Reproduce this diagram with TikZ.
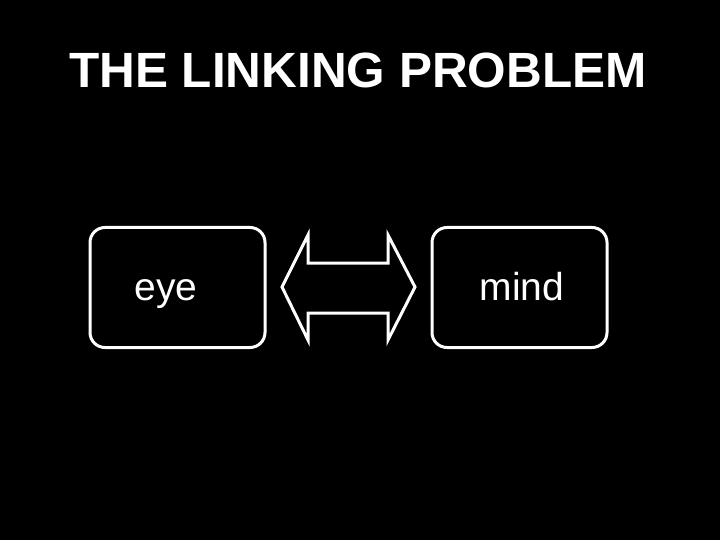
\documentclass[tikz,border=0pt]{standalone}
\usepackage{fontspec}
\setmainfont{Liberation Sans}
\usetikzlibrary{positioning}

\begin{document}
\begin{tikzpicture}[
        x=1pt, y=-1pt,
        termbox/.style={draw=white, line width=3pt, rounded corners=15pt, minimum width=175pt, minimum height=120pt, inner sep=0pt},
        termtext/.style={text=white, font=\fontsize{39}{44}\selectfont, anchor=base},
        linkarrow/.style={draw=white, line width=3pt, line join=miter}
      ]
        \fill[black] (0,0) rectangle (720,540);
        \useasboundingbox (0,0) rectangle (720,540);
        \node[text=white, font=\bfseries\fontsize{49.5}{58}\selectfont, anchor=base] (title) at (358,88) {THE LINKING PROBLEM};
        \node[termbox] (eyebox) at (177.5,287.5) {};
        \node[termbox] (mindbox) at (519.5,287.5) {};
        \node[termtext] (eye) at (166,300) {eye};
        \node[termtext] (mind) at (522,300) {mind};
        % double-headed link between the two boxes
        \draw[linkarrow] (282,287) -- (308,235) -- (308,263) -- (388,263) -- (388,235) -- (415,287)
          -- (388,340) -- (388,313) -- (308,313) -- (308,340) -- cycle;
      \end{tikzpicture}
\end{document}
